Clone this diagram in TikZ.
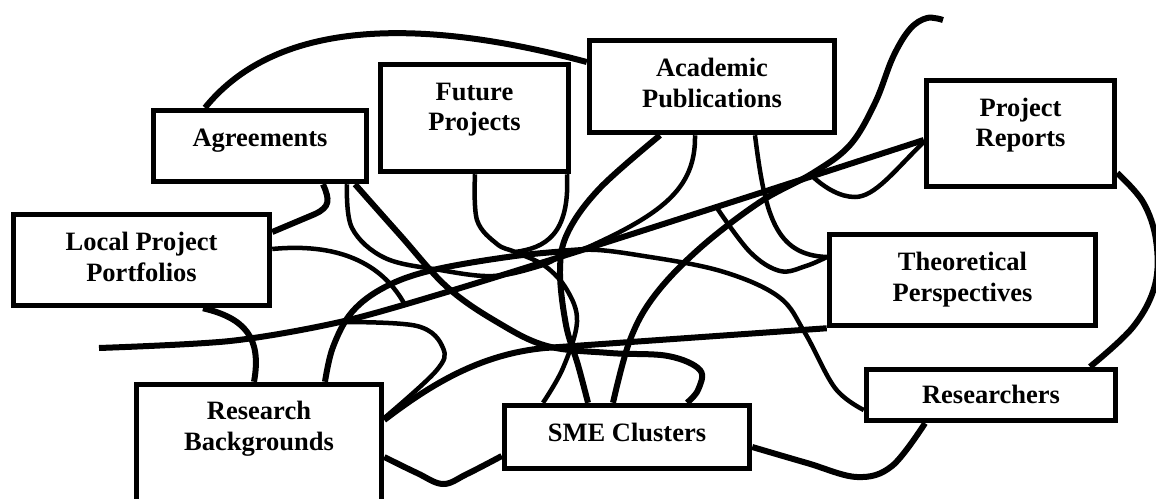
\documentclass[tikz,border=0pt]{standalone}
\usepackage{fontspec}
\setmainfont{Liberation Serif}
\begin{document}
\begin{tikzpicture}[x=1pt, y=-1pt,
    every node/.style={font=\fontsize{26.5}{30.5}\selectfont\bfseries},
    box/.style={draw, line width=5pt, inner sep=0pt, align=center},
    link/.style={line width=6pt},
    thinlink/.style={line width=4.5pt}]
    \useasboundingbox (0,0) rectangle (1156,498);

    % Boxes
    \node[box, minimum width=213.5pt, minimum height=71.5pt, text depth=16.7pt]
        (agr) at (260,146) {Agreements};
    \node[box, minimum width=188.5pt, minimum height=107.5pt, text depth=22.7pt]
        (fut) at (474.5,118) {Future\\Projects};
    \node[box, minimum width=245.5pt, minimum height=92.5pt, text depth=7.7pt]
        (acad) at (712,86.5) {Academic\\Publications};
    \node[box, minimum width=188.5pt, minimum height=106.5pt, text depth=22.7pt]
        (prep) at (1020.5,133.5) {Project\\Reports};
    \node[box, minimum width=256.5pt, minimum height=91.5pt, text depth=6.7pt]
        (lpp) at (141.5,260) {Local Project\\Portfolios};
    \node[box, minimum width=266.5pt, minimum height=91.5pt, text depth=6.7pt]
        (theo) at (962.5,280) {Theoretical\\Perspectives};
    \node[box, minimum width=249.5pt, minimum height=51.5pt, text depth=0.7pt]
        (resr) at (991,395) {Researchers};
    \node[box, minimum width=245.5pt, minimum height=183.5pt, text depth=100.7pt]
        (rbg) at (259,476) {Research\\Backgrounds};
    \node[box, minimum width=245.5pt, minimum height=63.5pt, text depth=8.7pt]
        (sme) at (627,437) {SME Clusters};

    % Meeting points and loose ends
    \coordinate (star) at (582,250);
    \coordinate (lineend) at (99,348);
    \coordinate (topend) at (943,20);
    \coordinate (j1) at (405,305);
    \coordinate (j2) at (717,208);
    \coordinate (j3) at (340,322);
    \coordinate (j4) at (812,176);
    \coordinate (fpjoin) at (515,252);

    % Agreements links
    \draw[link] (agr.north -| 205,0) .. controls (280,15) and (430,20) .. (acad.west |- 0,62);
    \draw[link] (agr.south -| 323,0) .. controls (330,200) and (330,207) .. (315,214) -- (lpp.east |- 0,232);
    \draw[thinlink] plot[smooth, tension=0.6] coordinates {(agr.south -| 347,0) (352,228) (385,258) (440,270) (493,276) (540,266) (star) (650,257) (724,272) (779,297) (805,333) (835,388) (resr.west |- 0,410)};
    \draw[link] plot[smooth, tension=0.6] coordinates {(agr.south -| 355,0) (400,235) (447,287) (497,322) (547,346) (610,353) (668,356) (700,370) (698,390) (sme.north -| 687,0)};

    % Local Project Portfolios links
    \draw[thinlink] (lpp.east |- 0,249) .. controls (345,242) and (385,268) .. (j1);
    \draw[link] (lpp.south -| 203,0) .. controls (245,318) and (262,338) .. (rbg.north -| 254,0);

    % Long line up to Project Reports
    \draw[link] plot[smooth, tension=0.5] coordinates {(lineend) (230,341) (340,322) (447,292) (star) (760,193) (prep.west |- 0,140)};

    % Research Backgrounds links
    \draw[link] plot[smooth, tension=0.6] coordinates {(rbg.north -| 325,0) (333,347) (352,312) (385,287) (433,270) (515,256) (star)};
    \draw[thinlink] plot[smooth, tension=0.6] coordinates {(j3) (417,326) (443,348) (436,371) (rbg.east |- 0,418)};
    \draw[link] (rbg.east |- 0,420) .. controls (430,385) and (480,354) .. (545,348) -- (theo.south west);
    \draw[link] plot[smooth, tension=0.6] coordinates {(rbg.east |- 0,457) (417,473) (443,484) (467,474) (sme.west |- 0,456)};

    % Future Projects links
    \draw[thinlink] plot[smooth, tension=0.6] coordinates {(fut.south -| 475,0) (477,220) (497,244) (fpjoin) (545,266) (567,290) (577,322) (563,368) (sme.north -| 543,0)};
    \draw[thinlink] (fut.south -| 567,0) .. controls (570,235) and (545,248) .. (fpjoin);

    % Academic Publications links
    \draw[link] plot[smooth, tension=0.6] coordinates {(acad.south -| 660,0) (600,188) (568,232) (560,270) (566,325) (578,365) (sme.north -| 588,0)};
    \draw[thinlink] (acad.south -| 695,0) .. controls (696,190) and (660,215) .. (star);
    \draw[thinlink] (acad.south -| 755,0) .. controls (765,215) and (775,255) .. (theo.west |- 0,257);

    % Project Reports links
    \draw[thinlink] plot[smooth, tension=0.6] coordinates {(j2) (750,252) (780,271) (806,266) (theo.west |- 0,257)};
    \draw[thinlink] (prep.west |- 0,142) .. controls (895,170) and (875,197) .. (855,197) .. controls (840,197) and (825,188) .. (j4);
    \draw[link] plot[smooth, tension=0.6] coordinates {(topend) (927,18) (910,29) (893,57) (875,103) (850,145) (813,173) (760,202) (700,248) (655,295) (630,340) (sme.north -| 613,0)};
    \draw[link] plot[smooth, tension=0.6] coordinates {(prep.east |- 0,173) (1143,202) (1156,240) (1155,285) (1133,327) (resr.north -| 1090,0)};

    % Researchers to SME Clusters
    \draw[link] plot[smooth, tension=0.6] coordinates {(sme.east |- 0,447) (807,463) (857,477) (892,466) (resr.south -| 925,0)};
\end{tikzpicture}
\end{document}
